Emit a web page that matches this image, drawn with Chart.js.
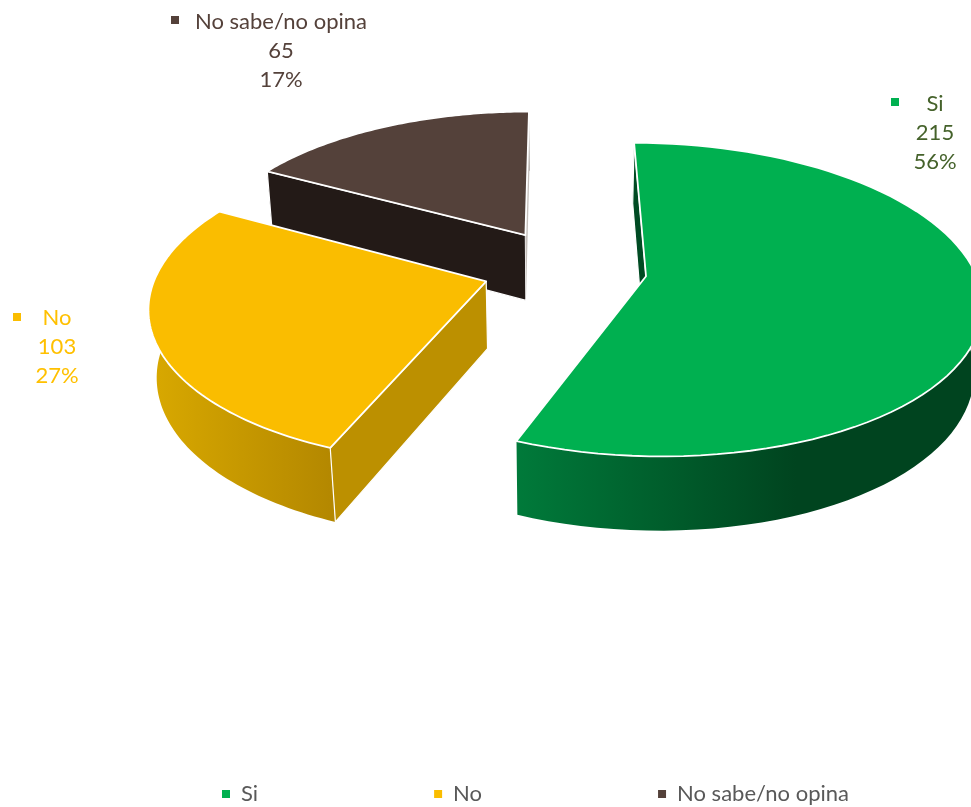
<!DOCTYPE html>
<html>
<head>
<meta charset="utf-8">
<title>Pastel 3D</title>
<script src="https://cdn.jsdelivr.net/npm/chart.js@4"></script>
<style>
    html, body { margin: 0; padding: 0; background: #ffffff; }
    canvas { display: block; }
</style>
</head>
<body>
<canvas id="grafica" width="971" height="807"></canvas>
<script>
var categorias = ["Si", "No", "No sabe/no opina"];
var valores = [215, 103, 65];

var coloresCara = ["#00B050", "#FABD00", "#54413A"];
var coloresPared = ["#004B23", "#BC9000", "#231A17"];
var coloresParedFin = ["#004B23", "#BC9000", "#C4BEBA"];
var coloresBordeIni = ["#007A3A", "#D9A900", "#231A17"];
var coloresBordeFin = ["#00441F", "#B48800", "#231A17"];
var coloresTexto = ["#45622B", "#FFC000", "#54413A"];
var separacion = [93, 71, 68];

// ajuste de la porcion en el plano, ademas de la separacion radial
var ajuste = [[0, 0], [0, 5], [5, -15]];

// posicion de las etiquetas de cada porcion
var etiquetas = [
    { x: 935, y: 104, cuadroX: 891, cuadroY: 98 },
    { x: 57, y: 318, cuadroX: 13, cuadroY: 313 },
    { x: 281, y: 22, cuadroX: 171, cuadroY: 16 }
];

// proyeccion en perspectiva del plano de la pastel a la pantalla
var vista = { cx: 554, cy: 268, radio: 328, k: 0.46, p: 0.00045, r: 0.02, q: 68 };

function proyectar(u, v, z) {
    var w = 1 - vista.p * v + vista.r * z;
    return { x: vista.cx + u / w, y: vista.cy + (vista.k * v + vista.q * z) / w };
}

function puntosArco(arco, z, i) {
    var o = arco.options.offset;
    var medio = (arco.startAngle + arco.endAngle) / 2;
    var ax = Math.cos(medio) * o + ajuste[i][0];
    var ay = Math.sin(medio) * o + ajuste[i][1];
    var pasos = 80;
    var lista = [];
    for (var n = 0; n <= pasos; n++) {
        var ang = arco.startAngle + (arco.endAngle - arco.startAngle) * n / pasos;
        lista.push(proyectar(ax + Math.cos(ang) * vista.radio, ay + Math.sin(ang) * vista.radio, z));
    }
    return { centro: proyectar(ax, ay, z), borde: lista };
}

function area(lista) {
    var suma = 0;
    lista.forEach(function(pt, i) {
        var sig = lista[(i + 1) % lista.length];
        suma += pt.x * sig.y - sig.x * pt.y;
    });
    return suma;
}

function trazar(ctx, lista, relleno, linea, grosor) {
    ctx.beginPath();
    lista.forEach(function(pt, i) {
        if (i == 0) ctx.moveTo(pt.x, pt.y);
        else ctx.lineTo(pt.x, pt.y);
    });
    ctx.closePath();
    ctx.fillStyle = relleno;
    ctx.fill();
    if (linea) {
        ctx.strokeStyle = linea;
        ctx.lineWidth = grosor;
        ctx.lineJoin = "round";
        ctx.stroke();
    }
}

var pastel3D = {
    id: "pastel3D",
    beforeDatasetsDraw: function(chart) {
        var ctx = chart.ctx;
        var arcos = chart.getDatasetMeta(0).data;
        // se pinta de atras hacia adelante
        [2, 1, 0].forEach(function(i) {
            var arriba = puntosArco(arcos[i], 0, i);
            var abajo = puntosArco(arcos[i], 1, i);
            var n = arriba.borde.length - 1;

            // borde curvo con degradado horizontal
            var xs = arriba.borde.map(function(pt) { return pt.x; });
            var grad = ctx.createLinearGradient(Math.min.apply(null, xs), 0, Math.max.apply(null, xs), 0);
            grad.addColorStop(0, coloresBordeIni[i]);
            grad.addColorStop(i == 0 ? 0.6 : 1, coloresBordeFin[i]);
            grad.addColorStop(1, coloresBordeFin[i]);
            trazar(ctx, arriba.borde.concat(abajo.borde.slice().reverse()), grad);

            // paredes del corte, solo las que miran hacia adelante
            var paredIni = [arriba.centro, arriba.borde[0], abajo.borde[0], abajo.centro];
            var paredFin = [arriba.centro, arriba.borde[n], abajo.borde[n], abajo.centro];
            if (area(paredIni) < 0) trazar(ctx, paredIni, coloresPared[i], "#ffffff", 1.2);
            if (area(paredFin) > 0) trazar(ctx, paredFin, coloresParedFin[i]);

            // cara superior
            trazar(ctx, [arriba.centro].concat(arriba.borde), coloresCara[i], "#ffffff", 1.8);
        });
        return false;
    },
    afterDraw: function(chart) {
        var ctx = chart.ctx;
        var total = valores.reduce(function(a, b) { return a + b; }, 0);
        ctx.save();
        ctx.font = "22px Lato";
        ctx.textAlign = "center";
        ctx.textBaseline = "middle";
        categorias.forEach(function(nombre, i) {
            var e = etiquetas[i];
            ctx.fillStyle = coloresCara[i];
            ctx.fillRect(e.cuadroX, e.cuadroY, 8, 8);
            ctx.fillStyle = coloresTexto[i];
            ctx.fillText(nombre, e.x, e.y);
            ctx.fillText(String(valores[i]), e.x, e.y + 29);
            ctx.fillText(Math.round(valores[i] / total * 100) + "%", e.x, e.y + 58);
        });
        ctx.restore();
    }
};

var grafica = new Chart(document.getElementById("grafica"), {
    type: "pie",
    data: {
        labels: categorias,
        datasets: [{
            data: valores,
            backgroundColor: coloresCara,
            borderWidth: 0,
            offset: separacion
        }]
    },
    options: {
        responsive: false,
        animation: false,
        // el padding derecho negativo deja la leyenda en una sola fila y la corre a la derecha
        layout: { padding: { bottom: -8, right: -100 } },
        plugins: {
            tooltip: { enabled: false },
            legend: {
                position: "bottom",
                labels: {
                    boxWidth: 8,
                    boxHeight: 8,
                    padding: 176,
                    color: "#595959",
                    font: { family: "Lato", size: 22 }
                }
            }
        }
    },
    plugins: [pastel3D]
});
</script>
</body>
</html>
